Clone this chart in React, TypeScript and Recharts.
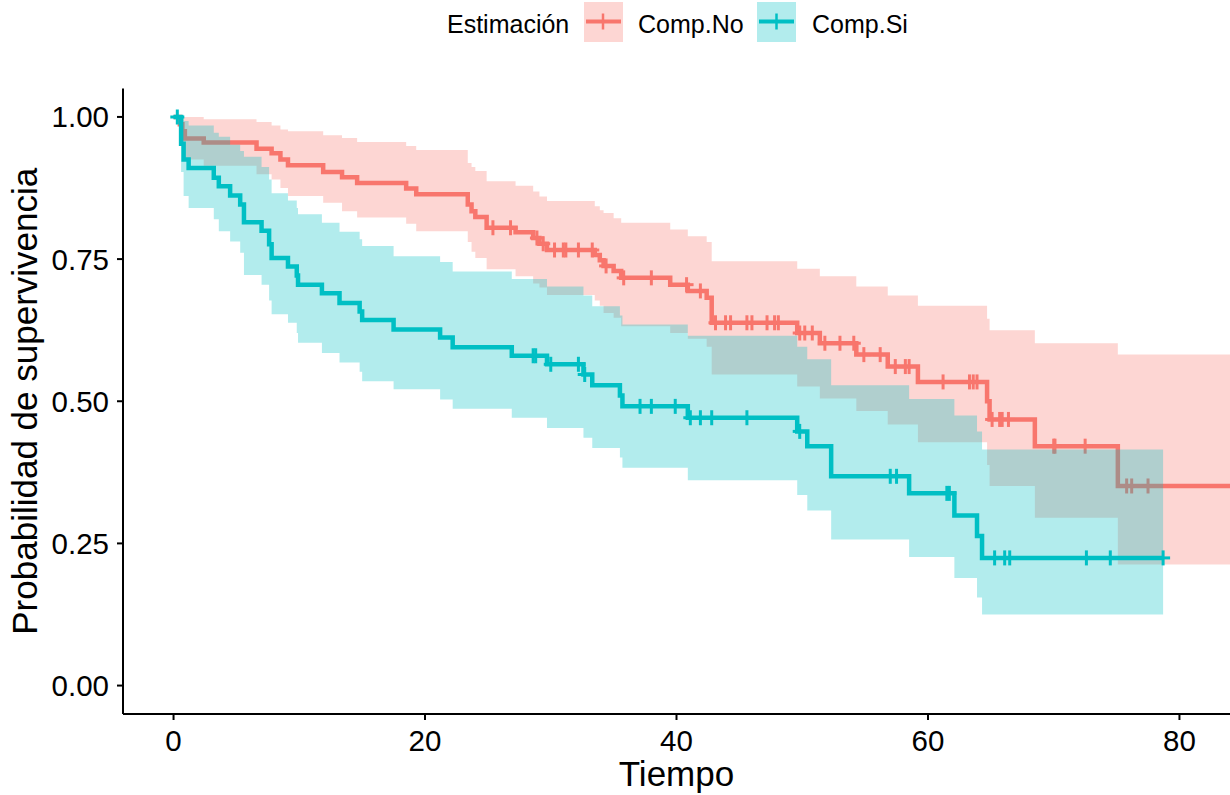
import React from 'react';
import { ComposedChart, Area, Line, Scatter, XAxis, YAxis, Label } from 'recharts';

// ---- Comp.No (Kaplan-Meier step values) ----
const noTime = [0, 0.5, 0.7, 0.9, 2.4, 6.6, 7.8, 8.5, 9.1, 11.9, 13.4, 14.6, 18.5, 19.3, 23.4, 23.7, 24.0, 24.9, 27.2, 28.6, 29.1, 29.7, 33.5, 33.9, 34.2, 35.0, 35.6, 39.5, 40.9, 42.4, 42.8, 49.6, 51.4, 54.3, 56.8, 59.2, 64.7, 64.9, 68.5, 75.1, 86];
const noSurv = [1, 0.987, 0.975, 0.962, 0.955, 0.944, 0.936, 0.925, 0.915, 0.903, 0.894, 0.884, 0.874, 0.864, 0.846, 0.834, 0.824, 0.805, 0.797, 0.787, 0.777, 0.766, 0.757, 0.748, 0.738, 0.729, 0.717, 0.705, 0.694, 0.682, 0.638, 0.620, 0.602, 0.582, 0.561, 0.534, 0.500, 0.468, 0.421, 0.351, 0.351];
const noUpper = [1, 1, 1, 1, 0.996, 0.991, 0.985, 0.978, 0.975, 0.968, 0.963, 0.956, 0.949, 0.942, 0.919, 0.912, 0.905, 0.887, 0.879, 0.869, 0.860, 0.852, 0.843, 0.836, 0.831, 0.822, 0.814, 0.802, 0.790, 0.780, 0.746, 0.733, 0.720, 0.702, 0.686, 0.668, 0.645, 0.625, 0.602, 0.582, 0.582];
const noLower = [1, 0.962, 0.945, 0.925, 0.914, 0.899, 0.890, 0.875, 0.861, 0.849, 0.834, 0.823, 0.812, 0.799, 0.780, 0.763, 0.752, 0.732, 0.720, 0.707, 0.700, 0.687, 0.677, 0.668, 0.655, 0.647, 0.632, 0.620, 0.610, 0.596, 0.547, 0.526, 0.505, 0.483, 0.459, 0.428, 0.388, 0.351, 0.295, 0.213, 0.213];
const noCensorTime = [25.4, 26.8, 28.9, 29.4, 30.3, 31.0, 31.2, 32.2, 33.3, 34.4, 35.8, 38.0, 40.8, 41.9, 43.1, 43.9, 44.3, 45.6, 46.0, 47.2, 47.8, 48.1, 49.8, 50.2, 50.8, 51.8, 53.0, 54.1, 54.9, 56.2, 57.4, 58.2, 58.5, 61.2, 63.3, 63.6, 63.9, 65.1, 65.7, 65.9, 66.4, 70.0, 70.1, 72.5, 75.8, 76.2, 77.5];

// ---- Comp.Si ----
const siTime = [0, 0.6, 0.8, 1.2, 3.2, 3.6, 4.5, 5.3, 5.6, 7.0, 7.6, 7.8, 9.1, 9.8, 9.9, 11.8, 13.2, 14.8, 15.0, 17.5, 21.2, 22.2, 26.9, 29.7, 32.6, 33.3, 35.5, 35.7, 40.9, 49.6, 50.4, 52.3, 58.5, 62.1, 63.9, 64.3, 78.7];
const siSurv = [1, 0.953, 0.925, 0.910, 0.893, 0.878, 0.862, 0.846, 0.815, 0.800, 0.776, 0.752, 0.737, 0.721, 0.705, 0.690, 0.673, 0.658, 0.643, 0.626, 0.612, 0.595, 0.580, 0.565, 0.547, 0.528, 0.510, 0.491, 0.471, 0.447, 0.421, 0.368, 0.338, 0.299, 0.263, 0.2245, 0.2245];
const siUpper = [1, 1, 0.993, 0.985, 0.972, 0.965, 0.951, 0.940, 0.930, 0.912, 0.890, 0.866, 0.853, 0.840, 0.829, 0.814, 0.798, 0.785, 0.773, 0.755, 0.745, 0.728, 0.715, 0.702, 0.686, 0.667, 0.651, 0.635, 0.615, 0.596, 0.574, 0.528, 0.504, 0.475, 0.447, 0.415, 0.415];
const siLower = [1, 0.903, 0.861, 0.840, 0.820, 0.799, 0.781, 0.761, 0.722, 0.705, 0.677, 0.653, 0.638, 0.620, 0.603, 0.585, 0.568, 0.552, 0.535, 0.521, 0.503, 0.487, 0.471, 0.453, 0.436, 0.418, 0.401, 0.383, 0.361, 0.335, 0.308, 0.257, 0.226, 0.189, 0.155, 0.125, 0.125];
const siCensorTime = [0.3, 28.6, 28.8, 30.0, 32.2, 32.7, 37.1, 38.0, 39.9, 41.1, 41.9, 42.8, 45.6, 49.8, 57.0, 57.5, 61.5, 61.7, 65.3, 66.1, 66.5, 72.6, 74.5, 78.7];

const xTicks = [0, 20, 40, 60, 80];
const yTicks = [0, 0.25, 0.5, 0.75, 1];
const groupNames = ['Comp.No', 'Comp.Si'];
const legendTitle = 'Estimación';
const xTitle = 'Tiempo';
const yTitle = 'Probabilidad de supervivencia';

const RED = '#F8766D';
const TEAL = '#00BFC4';
const FONT = "'Liberation Sans', Arial, Helvetica, sans-serif";

function buildCurve(time: number[], surv: number[], lo: number[], hi: number[]) {
  return time.map((t, i) => ({ t, s: surv[i], band: [lo[i], hi[i]] }));
}
function survAt(time: number[], surv: number[], t: number) {
  let v = surv[0];
  for (let i = 0; i < time.length; i++) if (time[i] <= t) v = surv[i];
  return v;
}
function buildCensors(time: number[], surv: number[], ct: number[]) {
  return ct.map((t) => ({ t, s: survAt(time, surv, t) }));
}

const noData = buildCurve(noTime, noSurv, noLower, noUpper);
const siData = buildCurve(siTime, siSurv, siLower, siUpper);
const noCens = buildCensors(noTime, noSurv, noCensorTime);
const siCens = buildCensors(siTime, siSurv, siCensorTime);

const censorShape = (color: string) => (props: any) => {
  const { cx, cy } = props;
  if (cx == null || cy == null) return <g />;
  return (
    <g>
      <line x1={cx - 7} x2={cx + 7} y1={cy} y2={cy} stroke={color} strokeWidth={3} />
      <line x1={cx} x2={cx} y1={cy - 7.5} y2={cy + 7.5} stroke={color} strokeWidth={3} />
    </g>
  );
};

const XTitle = (props: any) => {
  const vb = props.viewBox || {};
  return (
    <text x={vb.x + vb.width / 2} y={786} textAnchor="middle" fontSize={35} fontFamily={FONT} fill="#000">
      {xTitle}
    </text>
  );
};

const YTitle = (props: any) => {
  const vb = props.viewBox || {};
  const cy = vb.y + vb.height / 2;
  return (
    <text x={37} y={cy} transform={`rotate(-90, 37, ${cy})`} textAnchor="middle" fontSize={35} fontFamily={FONT} fill="#000">
      {yTitle}
    </text>
  );
};

export default function App() {
  const tickStyle = { fontSize: 29.5, fill: '#000', fontFamily: FONT };
  return (
    <div style={{ position: 'absolute', left: 0, top: 0, width: 1230, height: 795, background: '#fff', overflow: 'hidden' }}>
      <ComposedChart width={1230} height={795} margin={{ top: 88.5, right: 0, bottom: 0, left: 0 }}>
        <XAxis
          dataKey="t"
          type="number"
          domain={[-4.02, 84.02]}
          ticks={xTicks}
          allowDataOverflow
          height={81}
          tick={tickStyle}
          tickSize={6}
          tickMargin={10}
          axisLine={{ stroke: '#000', strokeWidth: 2 }}
          tickLine={{ stroke: '#000', strokeWidth: 2 }}
        >
          <Label content={<XTitle />} />
        </XAxis>
        <YAxis
          type="number"
          domain={[-0.05, 1.05]}
          ticks={yTicks}
          allowDataOverflow
          width={123}
          tick={tickStyle}
          tickSize={6}
          tickMargin={8}
          tickFormatter={(v: number) => v.toFixed(2)}
          axisLine={{ stroke: '#000', strokeWidth: 2 }}
          tickLine={{ stroke: '#000', strokeWidth: 2 }}
        >
          <Label content={<YTitle />} />
        </YAxis>

        <Area data={noData} dataKey="band" type="stepAfter" fill={RED} fillOpacity={0.3} stroke="none" dot={false} activeDot={false} isAnimationActive={false} zIndex={101} />
        <Line data={noData} dataKey="s" type="stepAfter" stroke={RED} strokeWidth={4.5} dot={false} activeDot={false} isAnimationActive={false} zIndex={102} />
        <Scatter data={noCens} dataKey="s" shape={censorShape(RED)} isAnimationActive={false} zIndex={103} />

        <Area data={siData} dataKey="band" type="stepAfter" fill={TEAL} fillOpacity={0.3} stroke="none" dot={false} activeDot={false} isAnimationActive={false} zIndex={104} />
        <Line data={siData} dataKey="s" type="stepAfter" stroke={TEAL} strokeWidth={4.5} dot={false} activeDot={false} isAnimationActive={false} zIndex={105} />
        <Scatter data={siCens} dataKey="s" shape={censorShape(TEAL)} isAnimationActive={false} zIndex={106} />
      </ComposedChart>

      <svg width={1230} height={60} style={{ position: 'absolute', left: 0, top: 0 }}>
        <text x={447} y={33} fontSize={25} fontFamily={FONT} fill="#000">{legendTitle}</text>
        <rect x={584} y={2} width={39} height={40} fill={RED} fillOpacity={0.3} />
        <line x1={586} x2={621} y1={21.5} y2={21.5} stroke={RED} strokeWidth={4} />
        <line x1={603} x2={603} y1={13.5} y2={29.5} stroke={RED} strokeWidth={2.5} />
        <text x={638} y={33} fontSize={25} fontFamily={FONT} fill="#000">{groupNames[0]}</text>
        <rect x={757} y={2} width={39} height={40} fill={TEAL} fillOpacity={0.3} />
        <line x1={759} x2={794} y1={21.5} y2={21.5} stroke={TEAL} strokeWidth={4} />
        <line x1={776.5} x2={776.5} y1={13.5} y2={29.5} stroke={TEAL} strokeWidth={2.5} />
        <text x={812} y={33} fontSize={25} fontFamily={FONT} fill="#000">{groupNames[1]}</text>
      </svg>
    </div>
  );
}
